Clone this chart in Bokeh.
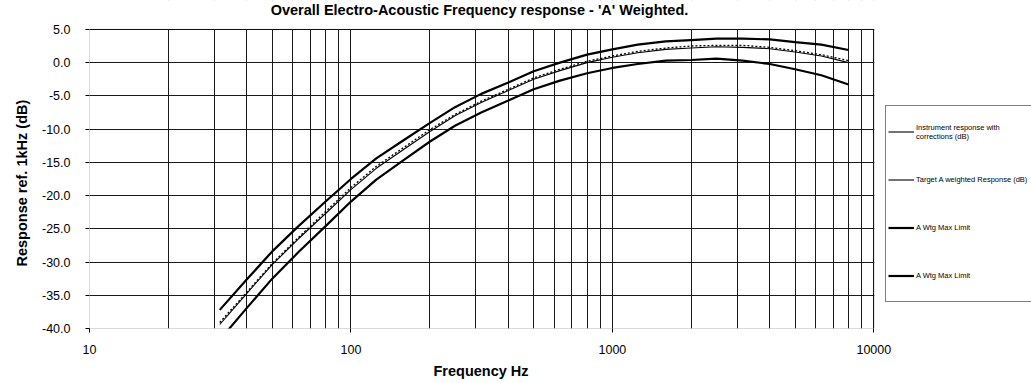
from bokeh.plotting import figure
from bokeh.models import (FixedTicker, Legend, LegendItem, Range1d,
                          NumeralTickFormatter, BoxAnnotation, Title, Label)
from bokeh.embed import file_html
from bokeh.resources import INLINE

# ---- data ----
freqs = [31.5, 40, 50, 63, 80, 100, 125, 160, 200, 250, 315, 400, 500, 630,
         800, 1000, 1250, 1600, 2000, 2500, 3150, 4000, 5000, 6300, 8000]
instrument = [-39.1, -34.5, -30.2, -26.3, -22.4, -18.8, -15.6, -12.7, -10.1,
              -7.8, -5.8, -4.0, -2.3, -1.0, 0.2, 1.0, 1.7, 2.2, 2.5, 2.6,
              2.6, 2.3, 1.8, 1.2, 0.3]
target = [-39.4, -34.7, -30.4, -26.5, -22.7, -19.1, -15.9, -13.0, -10.4, -8.0,
          -6.0, -4.2, -2.5, -1.2, 0.0, 0.8, 1.5, 2.0, 2.2, 2.4, 2.3, 2.1,
          1.6, 1.0, 0.0]
max_limit = [-37.2, -32.6, -28.4, -24.6, -20.9, -17.5, -14.4, -11.6, -9.1,
             -6.7, -4.7, -3.0, -1.3, 0.0, 1.2, 2.0, 2.7, 3.2, 3.4, 3.6, 3.6,
             3.5, 3.1, 2.7, 1.9]
min_limit = [-41.7, -36.9, -32.5, -28.5, -24.6, -20.9, -17.6, -14.6, -11.9,
             -9.5, -7.5, -5.7, -4.0, -2.7, -1.6, -0.8, -0.2, 0.3, 0.4, 0.6,
             0.3, -0.2, -1.0, -1.9, -3.3]
x_major = [10, 100, 1000, 10000]
x_minor = [k * 10 ** n for n in range(1, 4) for k in range(2, 10)]
y_ticks = [-40, -35, -30, -25, -20, -15, -10, -5, 0, 5]
labels = ["Instrument response with\ncorrections (dB)",
          "Target A weighted Response (dB)",
          "A Wtg Max Limit",
          "A Wtg Max Limit"]
x_lo, x_hi, y_lo, y_hi = 10, 10000, -40, 5
title_text = "Overall Electro-Acoustic Frequency response - 'A' Weighted."

FONT = "Liberation Sans"

# The frame spans the whole width and reaches the top of the canvas, so the
# legend and title can sit inside it; the parts outside the chart are masked.
x_end = 10 ** (4 + 158 / 262)
y_end = y_hi + 29 * (y_hi - y_lo) / 300

p = figure(width=1031, height=383, x_axis_type="log",
           x_range=Range1d(x_lo, x_end), y_range=Range1d(y_lo, y_end),
           output_backend="svg", toolbar_location=None,
           min_border_left=89, min_border_right=0,
           min_border_top=0, min_border_bottom=54)
p.outline_line_color = None
p.title.visible = False

# axes
p.xaxis.ticker = FixedTicker(ticks=x_major, minor_ticks=x_minor)
p.xaxis.formatter = NumeralTickFormatter(format="0")
p.yaxis.ticker = FixedTicker(ticks=y_ticks)
p.yaxis.formatter = NumeralTickFormatter(format="0.0")
for ax in (p.xaxis[0], p.yaxis[0]):
    ax.axis_line_color = None
    ax.major_tick_line_color = "black"
    ax.major_tick_out = 4
    ax.major_tick_in = 0
    ax.minor_tick_out = 0
    ax.minor_tick_in = 0
    ax.major_label_text_font = FONT
    ax.major_label_text_font_size = "12.5px"
    ax.major_label_text_color = "black"
p.xaxis.major_label_standoff = 12
p.yaxis.major_label_standoff = 15

xt = Title(text="Frequency Hz", align="left", offset=344, text_font=FONT,
           text_font_size="14.5px", text_font_style="bold",
           text_color="black", standoff=9)
p.add_layout(xt, "below")
yt = Title(text="Response ref. 1kHz (dB)", align="left", offset=62,
           text_font=FONT, text_font_size="14.5px", text_font_style="bold",
           text_color="black", standoff=20)
p.add_layout(yt, "left")

# grid
p.xgrid.grid_line_color = "#1a1a1a"
p.xgrid.minor_grid_line_color = "#1a1a1a"
p.xgrid.grid_line_width = 1
p.xgrid.minor_grid_line_width = 1
p.ygrid.grid_line_color = "#1a1a1a"
p.ygrid.grid_line_width = 1

# lines
r_inst = p.line(freqs, instrument, line_color="black", line_width=1.3,
                line_dash="2 2")
r_tgt = p.line(freqs, target, line_color="black", line_width=1.1)
r_max = p.line(freqs, max_limit, line_color="black", line_width=2.2)
r_min = p.line(freqs, min_limit, line_color="black", line_width=2.2)

# mask outside the chart, then draw the chart border
p.add_layout(BoxAnnotation(left=x_hi * 1.004, right=x_end * 2, bottom=y_lo - 10,
                           top=y_end + 10, fill_color="white", fill_alpha=1,
                           line_color=None, level="overlay"))
p.add_layout(BoxAnnotation(left=x_lo / 2, right=x_end * 2, bottom=y_hi + 0.08,
                           top=y_end + 10, fill_color="white", fill_alpha=1,
                           line_color=None, level="overlay"))
p.add_layout(BoxAnnotation(left=x_lo, right=x_hi, bottom=y_lo, top=y_hi,
                           fill_alpha=0, line_color="black", line_width=1,
                           level="overlay"))
p.add_layout(Label(x=390, y=319, x_units="screen", y_units="screen",
                   text=title_text, text_align="center",
                   text_baseline="middle", text_font=FONT,
                   text_font_size="14.5px", text_font_style="bold",
                   text_color="black", level="overlay"))

legend = Legend(items=[LegendItem(label=labels[0], renderers=[r_tgt]),
                       LegendItem(label=labels[1], renderers=[r_tgt]),
                       LegendItem(label=labels[2], renderers=[r_max]),
                       LegendItem(label=labels[3], renderers=[r_min])],
                location=(796, 26))
legend.border_line_color = "black"
legend.border_line_width = 1
legend.background_fill_color = "white"
legend.background_fill_alpha = 1
legend.padding = 2
legend.margin = 0
legend.spacing = 1
legend.glyph_height = 47
legend.glyph_width = 26
legend.label_height = 47
legend.label_standoff = 2
legend.label_text_font = FONT
legend.label_text_font_size = "7.5px"
legend.label_text_color = "black"
legend.label_width = 200
p.add_layout(legend, "center")

open("out.html", "w").write(file_html(p, INLINE))
